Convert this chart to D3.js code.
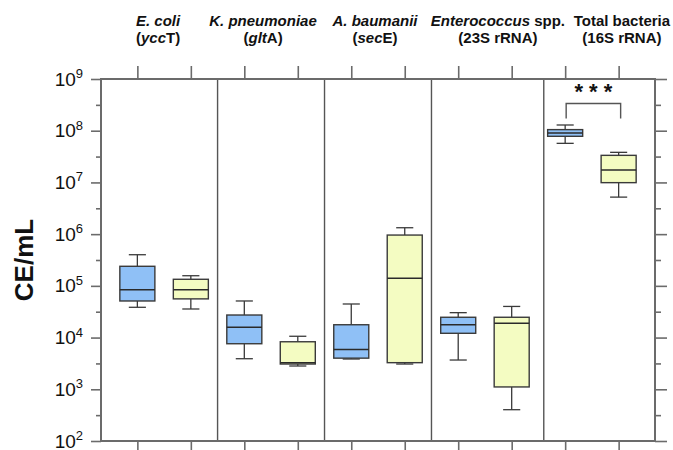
<!DOCTYPE html>
<html>
<head>
<meta charset="utf-8">
<script src="https://cdn.jsdelivr.net/npm/d3@7"></script>
<style>
  html, body { margin: 0; padding: 0; background: #fff; }
  svg { display: block; font-family: "Liberation Sans", Arial, sans-serif; }
</style>
</head>
<body>
<svg id="chart" width="673" height="450"></svg>
<script>
// ---------- DATA ----------
const categories = ["E. coli (yccT)", "K. pneumoniae (gltA)", "A. baumanii (secE)", "Enterococcus spp. (23S rRNA)", "Total bacteria (16S rRNA)"];
// header lines as [text, italic] runs
const headerLine1 = [
  [["E. coli", true]],
  [["K. pneumoniae", true]],
  [["A. baumanii", true]],
  [["Enterococcus", true], [" spp.", false]],
  [["Total bacteria", false]]
];
const headerLine2 = [
  [["(", false], ["ycc", true], ["T)", false]],
  [["(", false], ["glt", true], ["A)", false]],
  [["(", false], ["sec", true], ["E)", false]],
  [["(23S rRNA)", false]],
  [["(16S rRNA)", false]]
];
// box stats: [lower whisker, Q1, median, Q3, upper whisker]
const seriesBlue = [
  [3.85e4, 5.1e4, 8.4e4, 2.39e5, 4.0e5],
  [3.9e3, 7.6e3, 1.58e4, 2.73e4, 5.1e4],
  [3.85e3, 4.0e3, 5.9e3, 1.77e4, 4.46e4],
  [3.68e3, 1.21e4, 1.77e4, 2.47e4, 3.03e4],
  [5.7e7, 7.8e7, 9.0e7, 1.05e8, 1.29e8]
];
const seriesYellow = [
  [3.57e4, 5.6e4, 8.4e4, 1.34e5, 1.57e5],
  [2.82e3, 3.08e3, 3.27e3, 8.3e3, 1.06e4],
  [3.08e3, 3.27e3, 1.40e5, 9.6e5, 1.33e6],
  [403, 1.11e3, 1.89e4, 2.47e4, 4.0e4],
  [5.2e6, 9.9e6, 1.74e7, 3.34e7, 3.82e7]
];
const yMajorExponents = [2, 3, 4, 5, 6, 7, 8, 9];
const yMinorExponents = [2.5, 3.5, 4.5, 5.5, 6.5, 7.5, 8.5];
const significance = [{ group: 4, label: "* * *" }];
const yAxisTitle = "CE/mL";

// ---------- LAYOUT ----------
const plot = { left: 101, right: 655, top: 79, bottom: 441 };
const slotDomain = [-0.68, 9.68];
const dividerSlots = [1.5, 3.5, 5.5, 7.6];
const headerOffsets = [-6, -8, -3, 13, 30];
const colors = { blue: "#8fc0f6", yellow: "#f4fcc2", stroke: "#3a3a3a", frame: "#6b6b6b" };

const svg = d3.select("#chart");
const x = d3.scaleLinear().domain(slotDomain).range([plot.left, plot.right]);
const y = d3.scaleLog().domain([1e2, 1e9]).range([plot.bottom, plot.top]);
const slotPx = x(1) - x(0);
const boxW = 0.655 * slotPx;
const capW = 0.32 * slotPx;

// boxes list
const boxes = [];
categories.forEach((c, i) => {
  boxes.push({ slot: 2 * i, s: seriesBlue[i], fill: colors.blue });
  boxes.push({ slot: 2 * i + 1, s: seriesYellow[i], fill: colors.yellow });
});

// axes: left / right ticks
const pow10 = e => Math.pow(10, e);
function yAxis(gen, xPos, major, minor) {
  const gMaj = svg.append("g").attr("transform", `translate(${xPos},0)`)
    .call(gen(y).tickValues(yMajorExponents.map(pow10)).tickSize(major).tickFormat(""));
  const gMin = svg.append("g").attr("transform", `translate(${xPos},0)`)
    .call(gen(y).tickValues(yMinorExponents.map(pow10)).tickSize(minor).tickFormat(""));
  [gMaj, gMin].forEach(g => {
    g.select(".domain").remove();
    g.selectAll("line").attr("stroke", colors.frame).attr("stroke-width", 1.6);
  });
}
yAxis(d3.axisLeft, plot.left, 10, 5);
yAxis(d3.axisRight, plot.right, 12, 6);

// top / bottom ticks at box centers
const slots = boxes.map(b => b.slot);
[[d3.axisTop, plot.top], [d3.axisBottom, plot.bottom]].forEach(([gen, yPos]) => {
  const g = svg.append("g").attr("transform", `translate(0,${yPos})`)
    .call(gen(x).tickValues(slots).tickSize(13).tickFormat(""));
  g.select(".domain").remove();
  g.selectAll("line").attr("stroke", colors.frame).attr("stroke-width", 1.6);
});

// y tick labels 10^n
yMajorExponents.forEach(e => {
  const t = svg.append("text")
    .attr("x", 83).attr("y", y(pow10(e)) + 6.5)
    .attr("text-anchor", "end").attr("fill", "#111")
    .style("font-size", "19px");
  t.append("tspan").text("10");
  t.append("tspan").attr("dy", -7.5).style("font-size", "13px").text(e);
});

// dividers
svg.selectAll("line.div").data(dividerSlots).enter().append("line")
  .attr("x1", d => x(d)).attr("x2", d => x(d))
  .attr("y1", plot.top).attr("y2", plot.bottom)
  .attr("stroke", "#555").attr("stroke-width", 1.4);

// frame
svg.append("rect")
  .attr("x", plot.left).attr("y", plot.top)
  .attr("width", plot.right - plot.left).attr("height", plot.bottom - plot.top)
  .attr("fill", "none").attr("stroke", colors.frame).attr("stroke-width", 2);

// boxplots
const bg = svg.selectAll("g.box").data(boxes).enter().append("g");
bg.append("line") // upper whisker
  .attr("x1", d => x(d.slot)).attr("x2", d => x(d.slot))
  .attr("y1", d => y(d.s[4])).attr("y2", d => y(d.s[3]));
bg.append("line") // lower whisker
  .attr("x1", d => x(d.slot)).attr("x2", d => x(d.slot))
  .attr("y1", d => y(d.s[1])).attr("y2", d => y(d.s[0]));
bg.append("line")
  .attr("x1", d => x(d.slot) - capW / 2).attr("x2", d => x(d.slot) + capW / 2)
  .attr("y1", d => y(d.s[4])).attr("y2", d => y(d.s[4]));
bg.append("line")
  .attr("x1", d => x(d.slot) - capW / 2).attr("x2", d => x(d.slot) + capW / 2)
  .attr("y1", d => y(d.s[0])).attr("y2", d => y(d.s[0]));
bg.selectAll("line").attr("stroke", colors.stroke).attr("stroke-width", 1.3);
bg.append("rect")
  .attr("x", d => x(d.slot) - boxW / 2).attr("width", boxW)
  .attr("y", d => y(d.s[3])).attr("height", d => y(d.s[1]) - y(d.s[3]))
  .attr("fill", d => d.fill).attr("stroke", colors.stroke).attr("stroke-width", 1.4);
bg.append("line")
  .attr("x1", d => x(d.slot) - boxW / 2).attr("x2", d => x(d.slot) + boxW / 2)
  .attr("y1", d => y(d.s[2])).attr("y2", d => y(d.s[2]))
  .attr("stroke", "#2a2a2a").attr("stroke-width", 1.5);

// significance bracket
significance.forEach(sg => {
  const xa = x(2 * sg.group) + 1, xb = x(2 * sg.group + 1) + 2;
  const top = y(seriesBlue[sg.group][4]) - 21.5;
  svg.append("path")
    .attr("d", `M${xa},${top + 15}V${top}H${xb}V${top + 15}`)
    .attr("fill", "none").attr("stroke", "#555").attr("stroke-width", 1.4);
  svg.append("text")
    .attr("x", (xa + xb) / 2).attr("y", top - 4)
    .attr("text-anchor", "middle").style("font-size", "22px").style("font-weight", "bold")
    .attr("fill", "#111").text(sg.label);
});

// headers
categories.forEach((c, i) => {
  const cx = (x(2 * i) + x(2 * i + 1)) / 2 + headerOffsets[i];
  [[headerLine1[i], 26], [headerLine2[i], 43]].forEach(([runs, yy]) => {
    const t = svg.append("text").attr("x", cx).attr("y", yy)
      .attr("text-anchor", "middle").style("font-size", "15px").style("font-weight", "bold").attr("fill", "#111");
    runs.forEach(([s, it]) => t.append("tspan").style("font-style", it ? "italic" : "normal").text(s));
  });
});

// y axis title
svg.append("text")
  .attr("transform", `translate(33,260) rotate(-90)`)
  .attr("text-anchor", "middle").style("font-size", "26px").style("font-weight", "bold")
  .attr("fill", "#111").text(yAxisTitle);
</script>
</body>
</html>
